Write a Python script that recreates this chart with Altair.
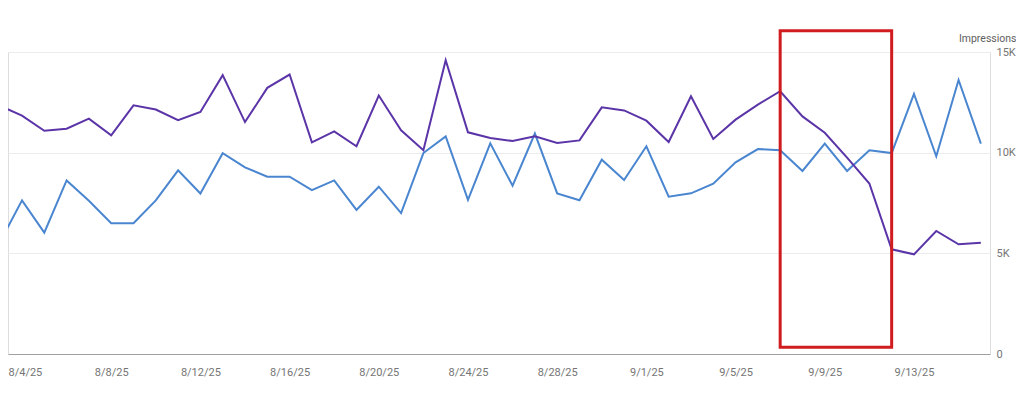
import altair as alt
import pandas as pd

# ---- data ----
dates = pd.date_range("2025-08-03", "2025-09-16", freq="D").strftime("%Y-%m-%d").tolist()

impressions = [12.34, 11.84, 11.09, 11.19, 11.69, 10.86, 12.35, 12.14, 11.61, 12.02,
               13.85, 11.52, 13.22, 13.88, 10.51, 11.06, 10.32, 12.84, 11.11, 10.12,
               14.59, 11.01, 10.73, 10.58, 10.81, 10.48, 10.61, 12.25, 12.10, 11.59,
               10.53, 12.80, 10.68, 11.64, 12.39, 13.05, 11.80, 10.99, 9.75, 8.47,
               5.20, 4.95, 6.11, 5.45, 5.53]

clicks = [5.54, 7.63, 6.03, 8.62, 7.61, 6.50, 6.50, 7.63, 9.12, 7.97,
          9.97, 9.27, 8.81, 8.81, 8.14, 8.62, 7.16, 8.31, 7.00, 9.98,
          10.81, 7.66, 10.46, 8.36, 10.95, 7.98, 7.64, 9.65, 8.64, 10.32,
          7.81, 7.98, 8.46, 9.52, 10.18, 10.12, 9.09, 10.45, 9.09, 10.12,
          9.98, 12.92, 9.82, 13.61, 10.45]

series_names = ["Clicks", "Impressions"]
series_colors = ["#4a86d0", "#5b35a8"]

tick_dates = ["2025-08-04", "2025-08-08", "2025-08-12", "2025-08-16", "2025-08-20",
              "2025-08-24", "2025-08-28", "2025-09-01", "2025-09-05", "2025-09-09",
              "2025-09-13"]
y_ticks = [0, 5000, 10000, 15000]

# highlight box (data coordinates)
box_start = ["2025-09-07"]
box_end = ["2025-09-12"]
box_low = [330]
box_high = [16060]

# ---- tables ----
rows = []
for d, c, i in zip(dates, clicks, impressions):
    rows.append({"date": d, "series": "Clicks", "value": c * 1000})
    rows.append({"date": d, "series": "Impressions", "value": i * 1000})
df = pd.DataFrame(rows)

box_df = pd.DataFrame({"start": box_start, "end": box_end, "low": box_low, "high": box_high})


def dt(s, h=0, m=0):
    y, mo, d = (int(p) for p in s.split("-"))
    return alt.DateTime(year=y, month=mo, date=d, hours=h, minutes=m, utc=True)


x_scale = alt.Scale(type="utc", domain=[dt("2025-08-03", 8, 56), dt("2025-09-16", 9, 50)])
y_scale = alt.Scale(domain=[0, 15000], nice=False)

first_label = "datum.value < utc(2025, 7, 5)"

x_axis = alt.Axis(
    values=[dt(s) for s in tick_dates],
    labelExpr="utcFormat(datum.value, '%-m/%-d/%y')",
    labelAlign={"condition": {"test": first_label, "value": "left"}, "value": "center"},
    labelOffset={"condition": {"test": first_label, "value": -14}, "value": 0},
    grid=False,
    ticks=False,
    tickSize=0,
    domain=True,
    domainColor="#a0a0a0",
    domainWidth=1,
    labelPadding=12,
    labelColor="#757575",
    labelFontSize=11,
    labelFont="Roboto",
    title=None,
)

y_axis = alt.Axis(
    orient="right",
    values=y_ticks,
    labelExpr="datum.value == 0 ? '0' : (datum.value / 1000) + 'K'",
    grid=True,
    gridColor="#ececec",
    gridWidth=1,
    ticks=False,
    tickSize=0,
    domain=False,
    labelPadding=6,
    labelAlign="left",
    labelColor="#757575",
    labelFontSize=11,
    labelFont="Roboto",
    title="Impressions",
    titleAngle=0,
    titleAlign="right",
    titleBaseline="alphabetic",
    titleX=26,
    titleY=-11,
    titleFont="Roboto",
    titleFontSize=10.5,
    titleFontWeight="normal",
    titleColor="#606060",
)

lines = alt.Chart(df).mark_line(strokeWidth=2, clip=True).encode(
    x=alt.X("date:T", scale=x_scale, axis=x_axis),
    y=alt.Y("value:Q", scale=y_scale, axis=y_axis),
    color=alt.Color("series:N", scale=alt.Scale(domain=series_names, range=series_colors), legend=None),
)

box = alt.Chart(box_df).mark_rect(fillOpacity=0, stroke="#d01c1f", strokeWidth=3).encode(
    x=alt.X("start:T", scale=x_scale),
    x2="end:T",
    y=alt.Y("low:Q", scale=y_scale),
    y2="high:Q",
)

chart = alt.layer(lines, box).properties(
    width=982,
    height=302,
    autosize=alt.AutoSizeParams(type="none"),
    padding={"left": 0, "top": 44, "right": 26, "bottom": 32},
).configure_view(stroke=None).configure(font="Roboto")

chart.save("out.html", embed_options={"renderer": "svg", "actions": False})
